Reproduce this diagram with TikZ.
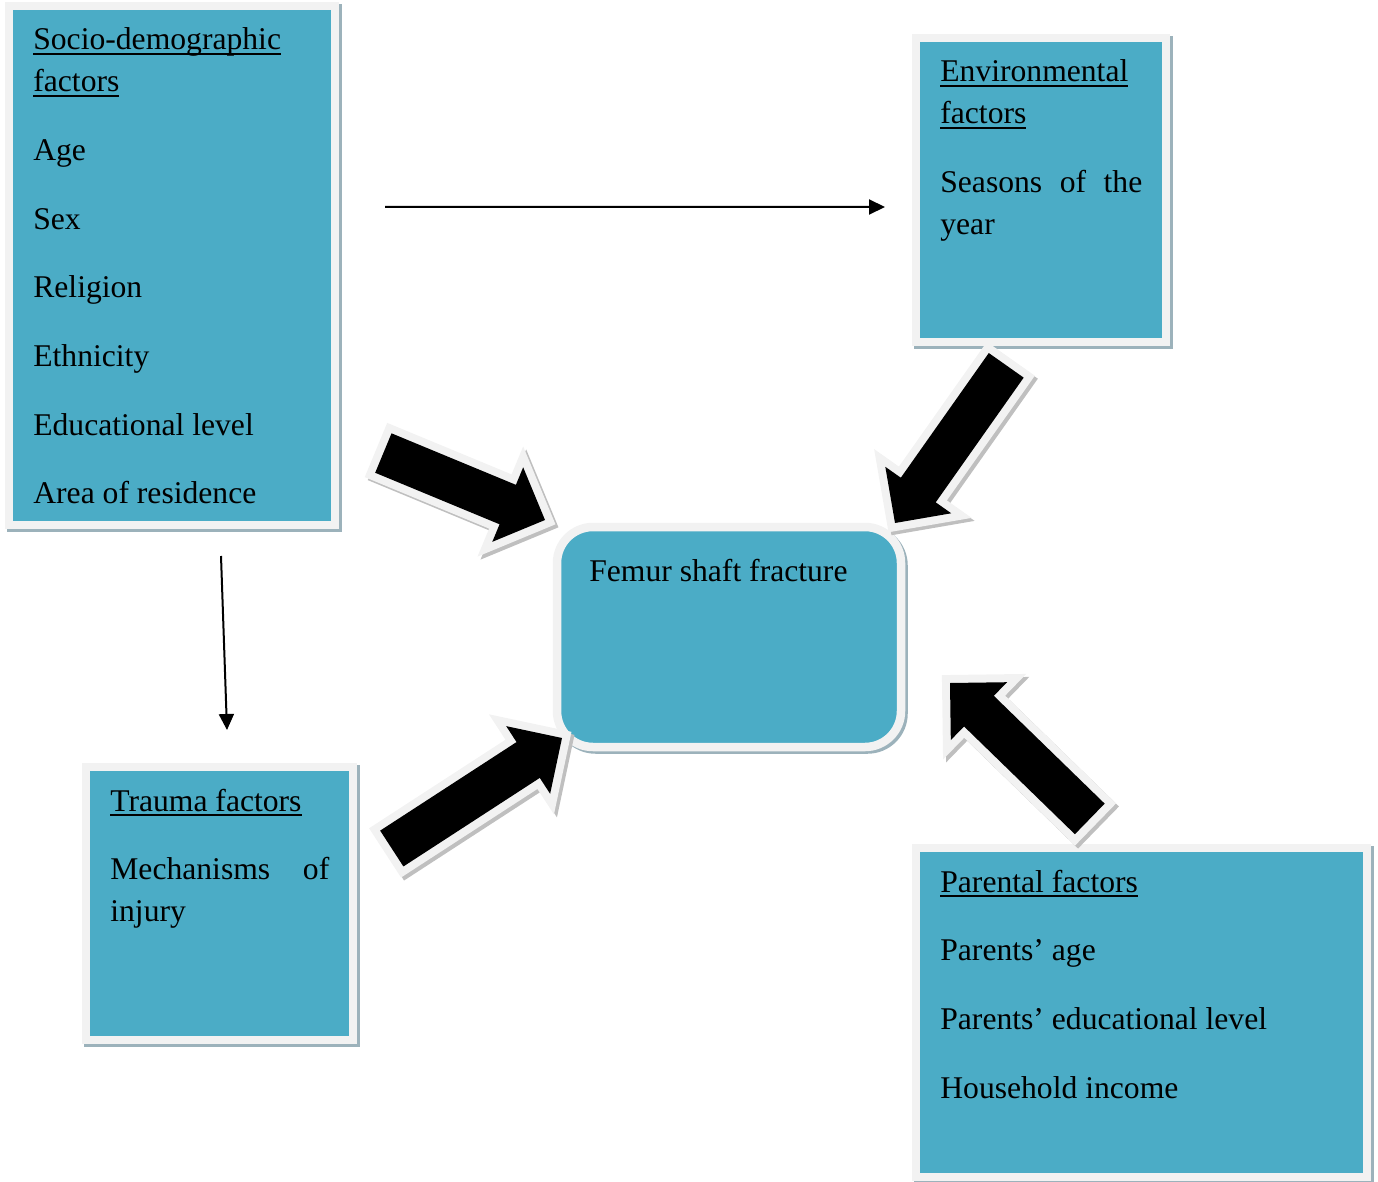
\documentclass[tikz,border=0pt]{standalone}
\usepackage{fontspec}
\setmainfont{Liberation Serif}
\usetikzlibrary{arrows.meta,positioning,fit,shapes.arrows,shadows}
\definecolor{boxteal}{HTML}{4BACC6}
\definecolor{boxrim}{HTML}{F2F2F2}
\definecolor{boxshade}{HTML}{9CB2BB}
\definecolor{arrowshade}{HTML}{BFBFBF}
\newcommand{\factorhead}[1]{\leavevmode\setbox0=\hbox{#1}\rlap{\rule[-2.8pt]{\wd0}{1.2pt}}\box0}

\begin{document}
\begin{tikzpicture}[x=0.02cm, y=-0.02cm, >={Triangle[length=0.32cm,width=0.3cm]}, font=\fontsize{18}{23.8}\selectfont]
  \tikzset{factor/.style={draw=boxrim, line width=0.17cm, fill=boxteal, inner sep=0pt, outer sep=0pt,
      drop shadow={shadow xshift=0.05cm, shadow yshift=-0.05cm, fill=boxshade, draw=boxshade, line width=0.17cm, opacity=1}},
    factortext/.style={anchor=base west, inner sep=0pt, text width=#1, align=flush left},
    bigarrow/.style={single arrow, fill=black, inner xsep=0pt, inner ysep=0.42cm, outer sep=0pt,
      single arrow head extend=0.38cm, single arrow tip angle=90,
      preaction={draw=arrowshade, line width=0.32cm, transform canvas={shift={(0.06cm,-0.06cm)}}},
      preaction={draw=boxrim, line width=0.32cm}},
    link/.style={->, line width=0.04cm}}
  \useasboundingbox (0,0) rectangle (1378,1182);
  % factor boxes
  \node[factor, fit={(9,6) (335,525)}] (socio) {};
  \node[factor, fit={(916,38) (1166,342)}] (env) {};
  \node[factor, fit={(86,767) (353,1040)}] (trauma) {};
  \node[factor, fit={(916,848) (1367,1177)}] (parent) {};
  \node[factor, rounded corners=0.72cm, fit={(557,527) (901,747)}] (femur) {};
  % box texts
  \node[factortext=5.6cm] (sociotext) at ([shift={(24,44)}]socio.north west)
    {\factorhead{Socio-demographic}\\ \factorhead{factors}\\[15.3pt] Age\\[15.3pt] Sex\\[15.3pt] Religion\\[15.3pt]
     Ethnicity\\[15.3pt] Educational level\\[15.3pt] Area of residence};
  \node[factortext=4.04cm] (envtext) at ([shift={(24,44)}]env.north west)
    {\factorhead{Environmental}\\ \factorhead{factors}\\[15.3pt] \makebox[4.04cm][s]{Seasons of the}\\ year};
  \node[factortext=4.38cm] (traumatext) at ([shift={(24,44)}]trauma.north west)
    {\factorhead{Trauma factors}\\[15.3pt] \makebox[4.38cm][s]{Mechanisms of}\\ injury};
  \node[factortext=8.1cm] (parenttext) at ([shift={(24,44)}]parent.north west)
    {\factorhead{Parental factors}\\[15.3pt] Parents’ age\\[15.3pt] Parents’ educational level\\[15.3pt] Household income};
  \node[factortext=6cm] (femurtext) at ([shift={(32,54)}]femur.north west) {Femur shaft fracture};
  % thin links
  \draw[link] ([shift={(50,201)}]socio.north east) -- ([shift={(-31,169)}]env.north west);
  \draw[link] ([shift={(49,31)}]socio.south) -- ([shift={(7.5,-37)}]trauma.north);
  % block arrows into the fracture box
  \node[bigarrow, minimum height=3.5cm, rotate=-22.5, anchor=tip] (arrsocio) at (545,520) {};
  \node[bigarrow, minimum height=3.86cm, rotate=-125.2, anchor=tip] (arrenv) at (895,523) {};
  \node[bigarrow, minimum height=4.06cm, rotate=33, anchor=tip] (arrtrauma) at (562,738) {};
  \node[bigarrow, minimum height=3.9cm, rotate=135.8, anchor=tip] (arrparent) at (950,683) {};
\end{tikzpicture}
\end{document}
